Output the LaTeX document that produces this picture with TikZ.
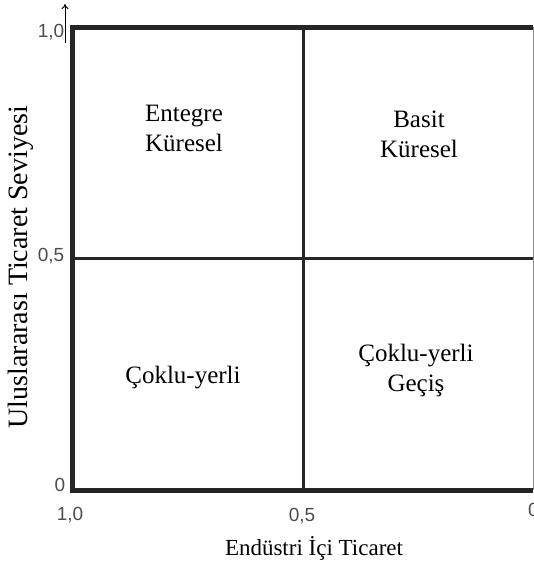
\documentclass[tikz,border=0pt]{standalone}
\usepackage{fontspec}
\setmainfont{Liberation Serif}
\newfontfamily\ticksans{Liberation Sans}
\usetikzlibrary{arrows.meta}

\tikzset{
  frame/.style={line width=5pt, draw=black!85},
  divider/.style={line width=3pt, draw=black!85},
  tick/.style={font=\ticksans\fontsize{19}{19}\selectfont, text=black!70, inner sep=0pt},
  cell/.style={font=\fontsize{25}{30}\selectfont, align=center, text=black, inner sep=0pt},
  axistitle/.style={font=\fontsize{23}{27}\selectfont, text=black, inner sep=0pt}
}

\begin{document}
\begin{tikzpicture}[x=1pt, y=-1pt]
        \useasboundingbox (0,0) rectangle (534,563);

        % corners of the grid
        \coordinate (tl) at (72,27);
        \coordinate (tr) at (533,27);
        \coordinate (bl) at (72,490);
        \coordinate (br) at (533,490);
        \coordinate (tm) at (303,27);
        \coordinate (bm) at (303,490);
        \coordinate (ml) at (72,258);
        \coordinate (mr) at (533,258);
        \coordinate (arrowfoot) at (65,43);
        \coordinate (arrowhead) at (65,4);

        \draw[black!45, line width=1pt] (tr) -- (br);
        \draw[divider] (tm) -- (bm);
        \draw[divider] (ml) -- (mr);
        \draw[frame] (tr) -- (tl) -- (bl) -- (br);
        \draw[-{To[length=5pt,width=7pt]}, line width=1pt] (arrowfoot) -- (arrowhead);

        % tick labels
        \node[tick] at (51,32) (y10){1,0};
        \node[tick] at (51,256) (y05){0,5};
        \node[tick] at (60,485) (y0){0};
        \node[tick] at (70,515) (x10){1,0};
        \node[tick] at (302,516) (x05){0,5};
        \node[tick, anchor=west] at (528,510) (x0){0};

        % quadrants
        \node[cell] at (184,128) (ik){Entegre\\Küresel};
        \node[cell] at (419,134) (bk){Basit\\Küresel};
        \node[cell] at (183,378) (cy){Çoklu-yerli};
        \node[cell] at (416,370) (cg){Çoklu-yerli\\Geçiş};

        % axis titles
        \node[axistitle, font=\fontsize{28}{32}\selectfont, rotate=90] at (21,267) (ylab){Uluslararası Ticaret Seviyesi};
        \node[axistitle] at (314,548) (xlab){Endüstri İçi Ticaret};
\end{tikzpicture}
\end{document}
